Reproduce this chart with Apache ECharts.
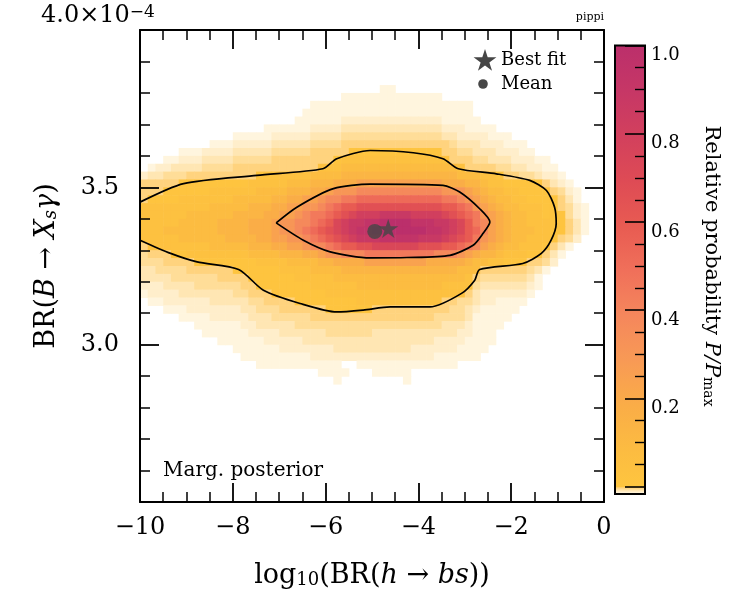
<!DOCTYPE html>
<html>
<head>
<meta charset="utf-8">
<script src="https://cdn.jsdelivr.net/npm/echarts@6.0.0/dist/echarts.min.js"></script>
<style>
html, body { margin: 0; padding: 0; background: #ffffff; }
#chart { width: 739px; height: 600px; }
</style>
</head>
<body>
<div id="chart"></div>
<script>
// ---------------- data ----------------
const X_RANGE = [-10, 0];            // log10(BR(h -> bs))
const Y_RANGE = [2.5, 4.0];          // BR(B -> X_s gamma), units of 1e-4
const N_XBINS = 60;
const N_YBINS = 60;
const X_TICK_INTERVAL = 2;
const Y_TICK_INTERVAL = 0.5;
const Y_TICK_LABELS = ['3.0', '3.5'];
const CB_TICK_LABELS = ['0.2', '0.4', '0.6', '0.8', '1.0'];

// relative probability P/Pmax of each code used in HEAT_ROWS
const LEVEL_CODES  = 'abcde123456789ABCDEFGH';
const LEVEL_VALUES = [0.002, 0.006, 0.010, 0.014, 0.018,
                      0.03, 0.06, 0.10, 0.15, 0.20, 0.26, 0.32, 0.39, 0.46,
                      0.53, 0.60, 0.67, 0.74, 0.81, 0.88, 0.94, 1.00];
// first bin row (counted from the top) holding posterior mass
const HEAT_FIRST_ROW = 7;
// run-length rows "<count><code>", '.' = empty bin, 60 bins per row, top to bottom
const HEAT_ROWS = [
  "31. 2a 27.",
  "26. 13a 21.",
  "22. 21a 17.",
  "21. 22a 17.",
  "20. 6a 13b 5a 16.",
  "16. 6a 4b 13c 3b 4a 14.",
  "12. 5a 5b 4c 13d 2c 4b 3a 12.",
  "9. 3a 5b 5c 4d 14e 1d 3c 3b 3a 10.",
  "5. 3a 4b 5c 5d 5e 121 2e 2d 3c 3b 2a 9.",
  "3. 2a 3b 4c 5d 8e 11 142 3e 2d 3c 3b 2a 7.",
  "1. 1a 2b 4c 4d 11e 32 153 12 4e 2d 2c 2b 2a 6.",
  "1b 2c 3d 9e 31 42 43 154 33 22 11 2e 2d 1c 2b 1a 5.",
  "5e 91 52 33 34 35 116 35 24 13 22 51 1e 1c 1b 1a 4.",
  "3e 61 62 43 34 25 16 37 118 37 16 15 14 23 22 41 1e 1d 1b 1a 3.",
  "1e 41 72 53 24 25 26 17 28 29 11A 29 18 17 16 15 14 23 22 41 1e 1c 1a 3.",
  "92 53 34 25 26 27 18 19 1A 2B 11C 2B 1A 19 17 16 15 14 23 32 21 1e 1d 1b 1a 2.",
  "62 63 44 25 26 17 18 29 1A 1B 1C 1D 3E 4F 4E 1D 1C 1B 1A 19 17 16 15 14 23 22 31 1d 1b 1a 2.",
  "52 53 44 35 16 27 28 19 1A 1B 1D 1E 2F 2G 4H 3G 2F 1E 1D 1B 19 18 16 15 14 23 32 21 1e 1c 1a 2.",
  "32 73 44 35 16 27 18 19 1A 1B 1C 1D 1E 1F 2G 7H 2G 1F 1E 1D 1B 1A 18 16 15 14 33 22 21 1e 1c 1a 2.",
  "52 63 44 25 26 27 18 19 1A 1B 1C 1D 1E 3F 5G 3F 1E 1D 1C 1B 19 17 16 15 14 23 32 11 1e 1d 1b 3.",
  "1e 82 53 34 25 26 17 28 19 1A 2B 2C 6D 3C 2B 1A 19 18 16 15 14 23 32 11 1e 1c 1a 4.",
  "1d 3e 21 82 43 34 25 16 27 38 99 38 17 16 15 24 13 32 21 1e 1c 1a 5.",
  "3d 4e 81 42 43 24 45 86 55 14 23 22 31 2e 1d 1b 6.",
  "2c 4d 6e 61 42 43 154 33 6e 1d 1c 1a 7.",
  "4c 6d 4e 61 52 173 12 1e 6d 1c 1a 8.",
  "3b 4c 6d 2e 71 62 113 42 1d 6c 1b 1a 8.",
  "1a 4b 7c 2d 3e 71 182 1e 1c 6b 1a 9.",
  "1. 2a 6b 5c 2d 4e 81 112 2e 2d 1c 2b 4a 10.",
  "3. 3a 7b 2c 3d 6e 61 10e 2d 1c 1b 5a 11.",
  "5. 4a 5b 3c 5d 16e 4d 1c 5a 12.",
  "7. 6a 2b 5c 19d 3c 1b 4a 13.",
  "8. 6a 4b 6c 6d 11c 2b 3a 14.",
  "10. 6a 5b 17c 4b 4a 14.",
  "12. 6a 7b 10c 6b 4a 15.",
  "13. 9a 16b 6a 16.",
  "15. 11a 2. 13a 19.",
  "23. 4a 3. 5a 25.",
  "25. 1a 8. 1a 25."
];

// 95.4% (outer, open at the left frame) and 68.3% (inner) credible-region contours
const OUTER_CONTOUR = [
  [-10, 3.453], [-9.06, 3.512], [-7.48, 3.538], [-6.06, 3.559], [-5.76, 3.591],
  [-5.04, 3.617], [-4.11, 3.610], [-3.47, 3.591], [-3.14, 3.559], [-2.32, 3.543],
  [-1.60, 3.522], [-1.24, 3.490], [-1.065, 3.437], [-1.03, 3.385], [-1.14, 3.332],
  [-1.35, 3.290], [-1.75, 3.258], [-2.68, 3.239], [-2.785, 3.205], [-3.07, 3.163],
  [-3.75, 3.120], [-4.61, 3.120], [-5.19, 3.110], [-5.76, 3.104], [-6.55, 3.131],
  [-7.34, 3.173], [-7.875, 3.239], [-8.77, 3.263], [-9.34, 3.290], [-10, 3.332]
];
const INNER_CONTOUR = [
  [-7.065, 3.387], [-6.62, 3.437], [-5.83, 3.496], [-5.04, 3.510], [-3.47, 3.506],
  [-3.11, 3.485], [-2.68, 3.432], [-2.46, 3.390], [-2.61, 3.353], [-2.82, 3.316],
  [-3.32, 3.284], [-4.25, 3.277], [-5.04, 3.276], [-5.90, 3.295], [-6.48, 3.332],
  [-7.065, 3.387]
];
const BEST_FIT = [-4.65, 3.369];
const MEAN = [-4.94, 3.360];

// ---------------- styling ----------------
const FONT = 'DejaVu Serif';
const MARK_COLOR = '#464646';
const COLOR_STOPS = [
  [0.000, '#fffaf0'], [0.002, '#fff5de'], [0.006, '#ffeecb'], [0.010, '#ffe6b3'],
  [0.014, '#ffdd98'], [0.018, '#ffd37e'], [0.022, '#fec53f'], [0.10, '#fcbc41'],
  [0.20, '#faad47'], [0.30, '#f89a55'], [0.40, '#f5875c'], [0.50, '#f0705a'],
  [0.60, '#e85b52'], [0.70, '#de4b55'], [0.80, '#d2405d'], [0.90, '#c63766'],
  [1.00, '#bb2f6b']
];
const STAR_PATH = 'path://M50,0 L61.23,34.55 L97.55,34.55 L68.17,55.9 L79.39,90.45 L50,69.1 L20.61,90.45 L31.83,55.9 L2.45,34.55 L38.77,34.55 Z';

function hexRgb(c) { return [1, 3, 5].map(i => parseInt(c.slice(i, i + 2), 16)); }
function colormap(v) {
  if (v <= COLOR_STOPS[0][0]) return COLOR_STOPS[0][1];
  for (let i = 1; i < COLOR_STOPS.length; i++) {
    if (v <= COLOR_STOPS[i][0]) {
      const v0 = COLOR_STOPS[i - 1][0], v1 = COLOR_STOPS[i][0];
      const a = hexRgb(COLOR_STOPS[i - 1][1]), b = hexRgb(COLOR_STOPS[i][1]);
      const t = (v - v0) / (v1 - v0);
      return 'rgb(' + a.map((x, k) => Math.round(x + (b[k] - x) * t)).join(',') + ')';
    }
  }
  return COLOR_STOPS[COLOR_STOPS.length - 1][1];
}

// ---------------- build heat cells from the rows ----------------
const DX = (X_RANGE[1] - X_RANGE[0]) / N_XBINS;
const DY = (Y_RANGE[1] - Y_RANGE[0]) / N_YBINS;
const heatData = [];
HEAT_ROWS.forEach((row, k) => {
  const j = N_YBINS - 1 - (HEAT_FIRST_ROW + k);
  let c = 0;
  row.trim().split(/\s+/).forEach(tok => {
    const n = parseInt(tok.slice(0, -1), 10);
    const code = tok.slice(-1);
    for (let m = 0; m < n; m++, c++) {
      if (code === '.' || c >= N_XBINS) continue;
      const v = LEVEL_VALUES[LEVEL_CODES.indexOf(code)];
      heatData.push([X_RANGE[0] + (c + 0.5) * DX, Y_RANGE[0] + (j + 0.5) * DY, v]);
    }
  });
});

// colorbar: the cream part of the map sits just below 0 on the bar
const CB_LOW = -0.017;
const cbStops = COLOR_STOPS.map(([v, col]) => {
  const p = v <= 0.022 ? CB_LOW + (v / 0.022) * (-CB_LOW) : (v - 0.022) / (1 - 0.022);
  return { offset: (p - CB_LOW) / (1 - CB_LOW), color: col };
});

const chart = echarts.init(document.getElementById('chart'), null, { renderer: 'canvas' });

const axisCommon = {
  type: 'value',
  z: 10,
  splitLine: { show: false },
  axisLine: { onZero: false, lineStyle: { color: '#000', width: 2 } },
  axisTick: { inside: true, length: 19, lineStyle: { color: '#000', width: 1.8 } },
  minorTick: { show: true, length: 10, lineStyle: { color: '#000', width: 1.5 } }
};

function legendStar(cx, cy, R) {
  const pts = [];
  for (let i = 0; i < 10; i++) {
    const r = i % 2 === 0 ? R : R * 0.382;
    const a = -Math.PI / 2 + i * Math.PI / 5;
    pts.push([cx + r * Math.cos(a), cy + r * Math.sin(a)]);
  }
  return pts;
}

const option = {
  animation: false,
  backgroundColor: '#ffffff',
  grid: [
    { left: 140, top: 30, width: 464, height: 472, outerBoundsMode: 'none' },
    { left: 615, top: 45.5, width: 30, height: 441, outerBoundsMode: 'none' }
  ],
  xAxis: [
    Object.assign({}, axisCommon, {
      gridIndex: 0, position: 'bottom', min: X_RANGE[0], max: X_RANGE[1], interval: X_TICK_INTERVAL,
      minorTick: Object.assign({}, axisCommon.minorTick, { splitNumber: 4 }),
      axisLabel: {
        margin: 14, fontSize: 24, fontFamily: FONT, color: '#000',
        formatter: v => (v < 0 ? '\u2212' + Math.abs(v) : String(v))
      },
      name: '{r|log}{s|10}{r|(BR(}{i|h}{r| \u2192 }{i|bs}{r|))}',
      nameLocation: 'middle', nameGap: 55,
      nameTextStyle: {
        rich: {
          r: { fontFamily: FONT, fontSize: 27, color: '#000', lineHeight: 32, verticalAlign: 'bottom' },
          i: { fontFamily: FONT, fontSize: 27, fontStyle: 'italic', color: '#000', lineHeight: 32, verticalAlign: 'bottom' },
          s: { fontFamily: FONT, fontSize: 18, color: '#000', lineHeight: 14, verticalAlign: 'bottom' }
        }
      }
    }),
    Object.assign({}, axisCommon, {
      gridIndex: 0, position: 'top', min: X_RANGE[0], max: X_RANGE[1], interval: X_TICK_INTERVAL,
      minorTick: Object.assign({}, axisCommon.minorTick, { splitNumber: 4 }),
      axisLabel: { show: false }
    }),
    { gridIndex: 1, type: 'value', min: 0, max: 1, show: false }
  ],
  yAxis: [
    Object.assign({}, axisCommon, {
      gridIndex: 0, position: 'left', min: Y_RANGE[0], max: Y_RANGE[1], interval: Y_TICK_INTERVAL,
      minorTick: Object.assign({}, axisCommon.minorTick, { splitNumber: 5 }),
      axisLabel: {
        margin: 21, fontSize: 24, fontFamily: FONT, color: '#000',
        formatter: v => (Y_TICK_LABELS.includes(v.toFixed(1)) ? v.toFixed(1) : '')
      },
      name: '{r|BR(}{i|B}{r| \u2192 }{i|X}{s|s}{i|\u03b3}{r|)}',
      nameLocation: 'middle', nameGap: 80,
      nameTextStyle: {
        rich: {
          r: { fontFamily: FONT, fontSize: 27, color: '#000', lineHeight: 32, verticalAlign: 'bottom' },
          i: { fontFamily: FONT, fontSize: 27, fontStyle: 'italic', color: '#000', lineHeight: 32, verticalAlign: 'bottom' },
          s: { fontFamily: FONT, fontSize: 18, fontStyle: 'italic', color: '#000', lineHeight: 14, verticalAlign: 'bottom' }
        }
      }
    }),
    Object.assign({}, axisCommon, {
      gridIndex: 0, position: 'right', min: Y_RANGE[0], max: Y_RANGE[1], interval: Y_TICK_INTERVAL,
      minorTick: Object.assign({}, axisCommon.minorTick, { splitNumber: 5 }),
      axisLabel: { show: false }
    }),
    {
      gridIndex: 1, type: 'value', position: 'right', min: 0, max: 1, interval: 0.2, z: 10,
      splitLine: { show: false },
      axisLine: { show: false, onZero: false },
      axisTick: { inside: true, length: 20, lineStyle: { color: '#000', width: 1.6 } },
      minorTick: { show: true, splitNumber: 4, length: 10, lineStyle: { color: '#000', width: 1.4 } },
      axisLabel: {
        margin: 6, fontSize: 18, fontFamily: FONT, color: '#000', verticalAlign: 'top', lineHeight: 20,
        formatter: v => (CB_TICK_LABELS.includes(v.toFixed(1)) ? v.toFixed(1) : '')
      },
      name: '{r|Relative probability }{i|P/P}{s|max}',
      nameLocation: 'middle', nameRotate: -90, nameGap: 56,
      nameTextStyle: {
        rich: {
          r: { fontFamily: FONT, fontSize: 21, color: '#000', lineHeight: 26, verticalAlign: 'bottom' },
          i: { fontFamily: FONT, fontSize: 21, fontStyle: 'italic', color: '#000', lineHeight: 26, verticalAlign: 'bottom' },
          s: { fontFamily: FONT, fontSize: 14, color: '#000', lineHeight: 12, verticalAlign: 'bottom' }
        }
      }
    }
  ],
  series: [
    {
      type: 'custom', name: 'Marg. posterior', xAxisIndex: 0, yAxisIndex: 0, clip: true, silent: true,
      data: heatData, z: 1,
      renderItem: function (params, api) {
        const x = api.value(0), y = api.value(1), v = api.value(2);
        const a = api.coord([x - DX / 2, y + DY / 2]);
        const b = api.coord([x + DX / 2, y - DY / 2]);
        return {
          type: 'rect',
          shape: { x: a[0], y: a[1], width: b[0] - a[0] + 0.6, height: b[1] - a[1] + 0.6 },
          style: { fill: colormap(v) }
        };
      }
    },
    {
      type: 'line', name: 'outer contour', xAxisIndex: 0, yAxisIndex: 0, data: OUTER_CONTOUR,
      smooth: 0.25, symbol: 'none', silent: true, z: 5, clip: true,
      lineStyle: { color: '#000', width: 1.7 }
    },
    {
      type: 'line', name: 'inner contour', xAxisIndex: 0, yAxisIndex: 0, data: INNER_CONTOUR,
      smooth: 0.25, symbol: 'none', silent: true, z: 5, clip: true,
      lineStyle: { color: '#000', width: 1.7 }
    },
    {
      type: 'scatter', name: 'Mean', xAxisIndex: 0, yAxisIndex: 0, data: [MEAN],
      symbol: 'circle', symbolSize: 15, z: 6, silent: true,
      itemStyle: { color: MARK_COLOR }
    },
    {
      type: 'scatter', name: 'Best fit', xAxisIndex: 0, yAxisIndex: 0, data: [BEST_FIT],
      symbol: STAR_PATH, symbolSize: [20, 19], z: 7, silent: true,
      itemStyle: { color: MARK_COLOR }
    },
    {
      type: 'custom', name: 'colorbar', xAxisIndex: 2, yAxisIndex: 2, clip: false, silent: true,
      data: [[0.5, 0.5]], z: 2,
      renderItem: function (params, api) {
        const tl = api.coord([0, 1]);
        const br = api.coord([1, CB_LOW]);
        const shape = { x: tl[0], y: tl[1], width: br[0] - tl[0], height: br[1] - tl[1] };
        return {
          type: 'group',
          children: [
            { type: 'rect', shape: shape,
              style: { fill: { type: 'linear', x: 0, y: 1, x2: 0, y2: 0, colorStops: cbStops } } },
            { type: 'rect', shape: shape, z2: 20, style: { fill: 'none', stroke: '#000', lineWidth: 2 } }
          ]
        };
      }
    }
  ],
  graphic: [
    {
      type: 'text', x: 41, y: 4, z: 20,
      style: {
        text: '{a|4.0\u00d710}{b|\u22124}',
        rich: {
          a: { fontFamily: FONT, fontSize: 24, fill: '#000', lineHeight: 30, verticalAlign: 'top' },
          b: { fontFamily: FONT, fontSize: 17, fill: '#000', lineHeight: 14, verticalAlign: 'top' }
        }
      }
    },
    {
      type: 'text', x: 604, y: 17, z: 20,
      style: { text: 'pippi', fontFamily: FONT, fontSize: 11, fill: '#000', align: 'right', verticalAlign: 'middle' }
    },
    {
      type: 'text', x: 163, y: 471, z: 20,
      style: { text: 'Marg. posterior', fontFamily: FONT, fontSize: 20, fill: '#000', align: 'left', verticalAlign: 'middle' }
    },
    {
      type: 'polygon', z: 20, shape: { points: legendStar(485, 61, 12) }, style: { fill: MARK_COLOR }
    },
    {
      type: 'circle', z: 20, shape: { cx: 483, cy: 84, r: 4.8 }, style: { fill: MARK_COLOR }
    },
    {
      type: 'text', x: 501, y: 60, z: 20,
      style: { text: 'Best fit', fontFamily: FONT, fontSize: 18, fill: '#000', align: 'left', verticalAlign: 'middle' }
    },
    {
      type: 'text', x: 501, y: 84, z: 20,
      style: { text: 'Mean', fontFamily: FONT, fontSize: 18, fill: '#000', align: 'left', verticalAlign: 'middle' }
    }
  ]
};

chart.setOption(option);
</script>
</body>
</html>
